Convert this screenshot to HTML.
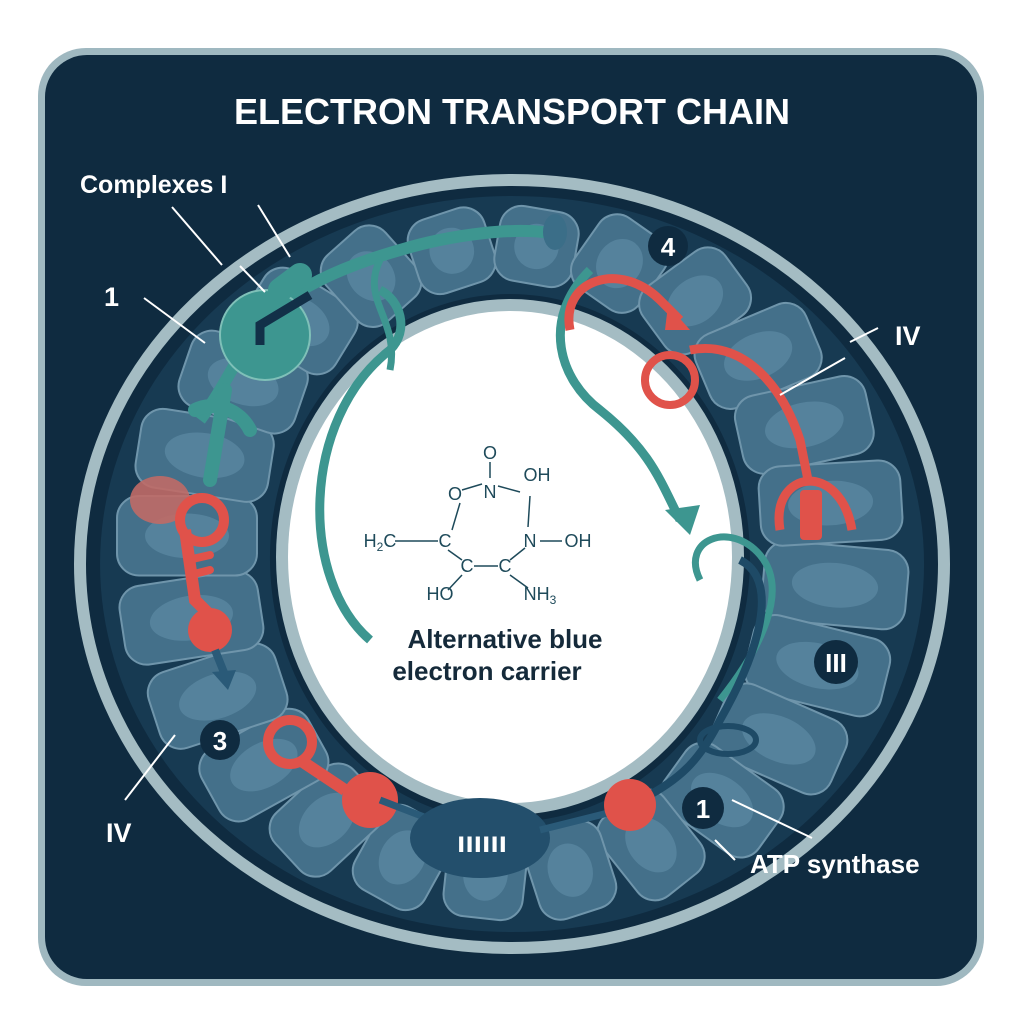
<!DOCTYPE html>
<html><head><meta charset="utf-8"><style>
html,body{margin:0;padding:0;background:#fff;}
svg{display:block;}
text{font-family:"Liberation Sans",sans-serif;}
</style></head><body>
<svg id="s" width="1024" height="1024" viewBox="0 0 1024 1024" xmlns="http://www.w3.org/2000/svg">
<rect x="0" y="0" width="1024" height="1024" fill="#ffffff"/>
<rect x="38" y="48" width="946" height="938" rx="48" fill="#9fb8c0"/>
<rect x="45" y="55" width="932" height="924" rx="42" fill="#0f2b40"/>
<text x="512" y="124" fill="#ffffff" font-size="36" font-weight="bold" text-anchor="middle">ELECTRON TRANSPORT CHAIN</text>
<ellipse cx="512" cy="564" rx="432" ry="384" fill="none" stroke="#a4bcc3" stroke-width="12"/>
<path d="M512 196 a412 368 0 1 0 0.1 0 Z M510 294 a240 264 0 1 1 -0.1 0 Z" fill="#173a52" fill-rule="evenodd"/>
<g id="cells"></g>
<ellipse cx="510" cy="557" rx="234" ry="258" fill="#a4bcc3"/>
<ellipse cx="510" cy="557" rx="222" ry="246" fill="#ffffff"/>
<path d="M370 640 C300 580 300 420 390 350 C410 330 400 300 380 290" fill="none" stroke="#3d9690" stroke-width="9"/>
<path d="M590 270 C540 320 560 380 600 410 C650 450 660 480 680 520" fill="none" stroke="#3d9690" stroke-width="9"/>
<polygon points="665,510 700,505 690,535" fill="#3d9690"/>
<path d="M700 580 C680 540 730 520 760 555 C790 590 760 650 720 700" fill="none" stroke="#3d9690" stroke-width="7"/>
<path d="M200 420 C230 380 250 330 270 310 C300 290 330 270 400 250 C450 235 520 225 560 235" fill="none" stroke="#3d9690" stroke-width="12"/>
<circle cx="265" cy="335" r="45" fill="#3d9690" stroke="#7fc0b8" stroke-width="2"/>
<path d="M280 290 L300 275" stroke="#3d9690" stroke-width="24" stroke-linecap="round"/>
<path d="M260 345 L260 325 L310 295" fill="none" stroke="#123048" stroke-width="9"/>
<path d="M210 480 L225 390 M195 410 C215 400 240 410 250 430" fill="none" stroke="#3d9690" stroke-width="14" stroke-linecap="round"/>
<path d="M390 370 C400 320 360 300 380 260" fill="none" stroke="#3d9690" stroke-width="7"/>
<ellipse cx="555" cy="232" rx="12" ry="18" fill="#3b6e88"/>
<ellipse cx="160" cy="500" rx="30" ry="24" fill="#c06a66" opacity="0.9"/>
<circle cx="202" cy="520" r="22" fill="none" stroke="#e0524a" stroke-width="10"/>
<path d="M185 530 L195 600 L215 620" fill="none" stroke="#e0524a" stroke-width="12"/>
<path d="M188 560 L210 555 M190 575 L210 570" stroke="#e0524a" stroke-width="8" stroke-linecap="round"/>
<circle cx="210" cy="630" r="22" fill="#e0524a"/>
<path d="M215 650 L225 675" stroke="#2a5a78" stroke-width="8"/>
<polygon points="212,672 236,670 228,690" fill="#2a5a78"/>
<circle cx="290" cy="742" r="22" fill="none" stroke="#e0524a" stroke-width="10"/>
<path d="M300 760 L345 790" stroke="#e0524a" stroke-width="12"/>
<circle cx="370" cy="800" r="28" fill="#e0524a"/>
<path d="M380 800 L445 825" stroke="#2a5a78" stroke-width="7"/>
<ellipse cx="480" cy="838" rx="70" ry="40" fill="#234f6c"/>
<text x="482" y="852" fill="#fff" font-size="30" text-anchor="middle" font-weight="bold">ıııııı</text>
<path d="M540 830 L620 810" stroke="#2a5a78" stroke-width="7"/>
<path d="M570 330 C560 280 620 260 660 300 L680 320" fill="none" stroke="#e0524a" stroke-width="9"/>
<polygon points="668,305 690,330 665,330" fill="#e0524a"/>
<circle cx="670" cy="380" r="25" fill="none" stroke="#e0524a" stroke-width="8"/>
<path d="M690 350 C740 340 780 380 800 440 L808 480" fill="none" stroke="#e0524a" stroke-width="9"/>
<path d="M780 530 C770 470 840 460 852 530" fill="none" stroke="#e0524a" stroke-width="9"/>
<rect x="800" y="490" width="22" height="50" rx="4" fill="#e0524a"/>
<path d="M740 560 C780 580 760 650 720 720 C700 760 680 780 640 800" fill="none" stroke="#1e4a66" stroke-width="8"/>
<ellipse cx="728" cy="740" rx="28" ry="14" fill="none" stroke="#1e4a66" stroke-width="6"/>
<circle cx="630" cy="805" r="26" fill="#e0524a"/>
<g fill="#1e4a5a" font-size="18">
<text x="490" y="459" text-anchor="middle">O</text>
<text x="490" y="498" text-anchor="middle">N</text>
<text x="537" y="481" text-anchor="middle">OH</text>
<text x="455" y="500" text-anchor="middle">O</text>
<text x="380" y="547" text-anchor="middle">H<tspan font-size="12" dy="4">2</tspan><tspan dy="-4">C</tspan></text>
<text x="445" y="547" text-anchor="middle">C</text>
<text x="530" y="547" text-anchor="middle">N</text>
<text x="578" y="547" text-anchor="middle">OH</text>
<text x="467" y="572" text-anchor="middle">C</text>
<text x="505" y="572" text-anchor="middle">C</text>
<text x="440" y="600" text-anchor="middle">HO</text>
<text x="540" y="600" text-anchor="middle">NH<tspan font-size="12" dy="4">3</tspan></text>
</g>
<g stroke="#1e4a5a" stroke-width="1.5" fill="none">
<path d="M490 462 L490 478 M462 490 L482 484 M498 486 L520 492 M530 496 L528 527 M540 541 L562 541 M395 541 L438 541 M452 530 L460 503 M448 550 L462 560 M474 566 L498 566 M510 560 L525 548 M462 575 L448 590 M510 575 L528 588"/>
</g>
<text x="505" y="648" fill="#152a3a" font-size="26" font-weight="bold" text-anchor="middle">Alternative blue</text>
<text x="487" y="680" fill="#152a3a" font-size="26" font-weight="bold" text-anchor="middle">electron carrier</text>
<g stroke="#ffffff" stroke-width="2">
<line x1="172" y1="207" x2="222" y2="265"/><line x1="240" y1="266" x2="265" y2="292"/>
<line x1="258" y1="205" x2="290" y2="257"/><line x1="144" y1="298" x2="205" y2="343"/>
<line x1="878" y1="328" x2="850" y2="342"/><line x1="845" y1="358" x2="780" y2="395"/>
<line x1="175" y1="735" x2="125" y2="800"/><line x1="715" y1="840" x2="735" y2="860"/>
<line x1="732" y1="800" x2="812" y2="838"/>
</g>
<text x="80" y="193" fill="#fff" font-size="25" font-weight="bold">Complexes I</text>
<text x="104" y="306" fill="#fff" font-size="27" font-weight="bold">1</text>
<text x="895" y="345" fill="#fff" font-size="27" font-weight="bold">IV</text>
<text x="106" y="842" fill="#fff" font-size="27" font-weight="bold">IV</text>
<text x="750" y="873" fill="#fff" font-size="26" font-weight="bold">ATP synthase</text>
<g fill="#0f2b40"><circle cx="668" cy="246" r="20"/><circle cx="836" cy="662" r="22"/><circle cx="220" cy="740" r="20"/><circle cx="703" cy="808" r="21"/></g>
<g fill="#fff" font-size="26" font-weight="bold" text-anchor="middle">
<text x="668" y="256">4</text><text x="836" y="672">III</text><text x="220" y="750">3</text><text x="703" y="818">1</text>
</g>
</svg>
<script>
(function(){
var g=document.getElementById('cells'),ns='http://www.w3.org/2000/svg',N=24;
for(var i=0;i<N;i++){
 var t=(i+0.3)/N*2*Math.PI,c=Math.cos(t),s=Math.sin(t);
 var ox=512+404*c,oy=564+360*s,ix=510+246*c,iy=557+270*s;
 var cx=(ox+ix)/2,cy=(oy+iy)/2,dx=ox-ix,dy=oy-iy,L=Math.sqrt(dx*dx+dy*dy)*0.9;
 var w=2*Math.PI*330/N*0.92,a=Math.atan2(dy,dx)*180/Math.PI;
 var r=document.createElementNS(ns,'rect');
 r.setAttribute('x',cx-L/2);r.setAttribute('y',cy-w/2);r.setAttribute('width',L);r.setAttribute('height',w);
 r.setAttribute('rx',22);r.setAttribute('fill','#44708a');r.setAttribute('stroke','#6f95ab');r.setAttribute('stroke-width','2');
 r.setAttribute('transform','rotate('+a+' '+cx+' '+cy+')');g.appendChild(r);
 var e=document.createElementNS(ns,'ellipse');
 e.setAttribute('cx',cx);e.setAttribute('cy',cy);e.setAttribute('rx',L*0.3);e.setAttribute('ry',w*0.28);
 e.setAttribute('fill','#55829c');e.setAttribute('transform','rotate('+a+' '+cx+' '+cy+')');g.appendChild(e);
}})();
</script>
</body></html>
